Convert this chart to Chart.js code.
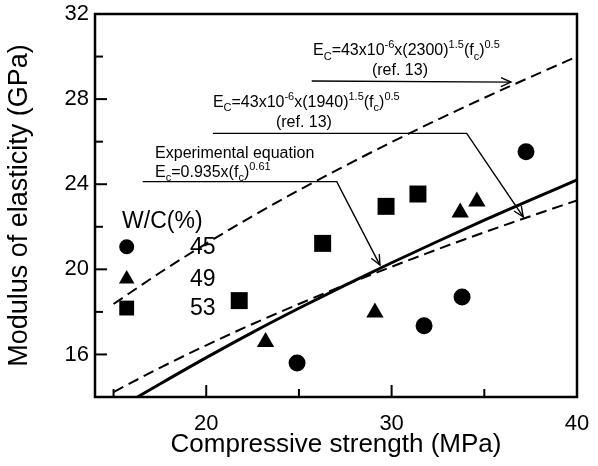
<!DOCTYPE html>
<html><head><meta charset="utf-8">
<script src="https://cdn.jsdelivr.net/npm/chart.js@4/dist/chart.umd.min.js"></script>
<style>html,body{margin:0;padding:0;background:#fff}#c{display:block}</style>
</head><body>
<canvas id="c" width="598" height="466"></canvas>
<script>
// ---- data ----
const fc45 = [24.9, 31.75, 33.8, 37.25];
const ec45 = [15.6, 17.35, 18.7, 25.53];
const fc49 = [23.2, 29.1, 33.7, 34.6];
const ec49 = [16.58, 17.97, 22.67, 23.19];
const fc53 = [21.78, 26.28, 29.7, 31.42];
const ec53 = [18.53, 21.22, 22.96, 23.54];

const fcCurve = [15, 17.5, 20, 22.5, 25, 27.5, 30, 32.5, 35, 37.5, 40];
const ecRef2300 = [18.37, 19.84, 21.21, 22.50, 23.72, 24.87, 25.98, 27.04, 28.06, 29.04, 30.00];
const ecRef1940 = [14.23, 15.37, 16.43, 17.43, 18.37, 19.27, 20.12, 20.95, 21.74, 22.50, 23.24];
const fcExp = [16.0, 17.5, 20, 22.5, 25, 27.5, 30, 32.5, 35, 37.5, 40];
const ecExp = [13.85, 14.61, 15.85, 17.04, 18.17, 19.26, 20.31, 21.32, 22.31, 23.26, 24.20];

const xMajor = [20, 30, 40];
const xMinor = [15, 25, 35];
const yMajor = [16, 20, 24, 28, 32];
const yMinor = [18, 22, 26, 30];

const legendLabels = ['45', '49', '53'];
const legendTitle = 'W/C(%)';

const FONT = '"Liberation Sans", Arial, Helvetica, sans-serif';

function pts(xs, ys) { return xs.map((x, i) => ({x: x, y: ys[i]})); }

// annotation anchors (data units)
const ann = {
  t1: {x: 25.76, y: 30.07}, r1: {x: 30.45, y: 29.13},
  t2: {x: 20.36, y: 27.64}, r2: {x: 25.27, y: 26.69},
  t3: {x: 17.24, y: 25.23}, t4: {x: 17.24, y: 24.35},
  a1: [[16.57, 24.12], [27.04, 24.12], [29.37, 20.20]],
  a2: [[20.36, 26.39], [34.05, 26.39], [37.10, 22.47]],
  a3: [[25.69, 28.85], [36.44, 28.80]],
  leg: {mx: 15.71, tx: 19.12, title: {x: 15.46, y: 21.95}, ys: [21.06, 19.55, 18.18]}
};

function drawMarker(ctx, style, x, y, r) {
  ctx.beginPath();
  if (style === 'circle') {
    ctx.arc(x, y, r, 0, Math.PI * 2);
  } else if (style === 'triangle') {
    ctx.moveTo(x, y - r);
    ctx.lineTo(x + r * Math.sin(2 * Math.PI / 3), y - r * Math.cos(2 * Math.PI / 3));
    ctx.lineTo(x + r * Math.sin(4 * Math.PI / 3), y - r * Math.cos(4 * Math.PI / 3));
    ctx.closePath();
  } else {
    const s = r * Math.SQRT1_2;
    ctx.rect(x - s, y - s, 2 * s, 2 * s);
  }
  ctx.fill();
}

function drawRich(ctx, parts, x, y, size, align) {
  const fontN = size + 'px ' + FONT, fontS = Math.round(size * 0.68) + 'px ' + FONT;
  let w = 0;
  parts.forEach(p => { ctx.font = p[1] ? fontS : fontN; w += ctx.measureText(p[0]).width; });
  let cx = align === 'center' ? x - w / 2 : x;
  ctx.textAlign = 'left';
  ctx.textBaseline = 'alphabetic';
  parts.forEach(p => {
    ctx.font = p[1] ? fontS : fontN;
    const dy = p[1] === 'sub' ? size * 0.28 : (p[1] === 'sup' ? -size * 0.42 : 0);
    ctx.fillText(p[0], cx, y + dy);
    cx += ctx.measureText(p[0]).width;
  });
}

function arrow(ctx, pts, X, Y) {
  ctx.beginPath();
  pts.forEach((p, i) => { const px = X(p[0]), py = Y(p[1]); i ? ctx.lineTo(px, py) : ctx.moveTo(px, py); });
  ctx.stroke();
  const n = pts.length;
  const x1 = X(pts[n - 2][0]), y1 = Y(pts[n - 2][1]), x2 = X(pts[n - 1][0]), y2 = Y(pts[n - 1][1]);
  const ang = Math.atan2(y2 - y1, x2 - x1), L = 11, h = 0.42;
  ctx.beginPath();
  ctx.moveTo(x2 - L * Math.cos(ang - h), y2 - L * Math.sin(ang - h));
  ctx.lineTo(x2, y2);
  ctx.lineTo(x2 - L * Math.cos(ang + h), y2 - L * Math.sin(ang + h));
  ctx.stroke();
}

const decor = {
  id: 'decor',
  afterDraw(chart) {
    const ctx = chart.ctx, xs = chart.scales.x, ys = chart.scales.y, a = chart.chartArea;
    const X = v => xs.getPixelForValue(v), Y = v => ys.getPixelForValue(v);
    ctx.save();
    ctx.strokeStyle = '#000'; ctx.fillStyle = '#000';
    // inner ticks
    ctx.lineWidth = 2;
    const tk = (vals, len, axis) => vals.forEach(v => {
      ctx.beginPath();
      if (axis === 'x') { ctx.moveTo(X(v), a.bottom); ctx.lineTo(X(v), a.bottom - len); }
      else { ctx.moveTo(a.left, Y(v)); ctx.lineTo(a.left + len, Y(v)); }
      ctx.stroke();
    });
    tk(xMajor.filter(v => v < 40), 12, 'x'); tk(xMinor, 8, 'x');
    tk(yMajor.filter(v => v < 32), 12, 'y'); tk(yMinor, 8, 'y');
    // frame
    ctx.lineWidth = 2.5;
    ctx.strokeRect(a.left, a.top, a.right - a.left, a.bottom - a.top);
    // annotation arrows
    ctx.lineWidth = 1.4;
    arrow(ctx, ann.a1, X, Y); arrow(ctx, ann.a2, X, Y); arrow(ctx, ann.a3, X, Y);
    // annotation texts
    const S = 16;
    drawRich(ctx, [['E'], ['C', 'sub'], ['=43x10'], ['-6', 'sup'], ['x(2300)'], ['1.5', 'sup'], ['(f'], ['c', 'sub'], [')'], ['0.5', 'sup']], X(ann.t1.x), Y(ann.t1.y), S, 'left');
    drawRich(ctx, [['(ref. 13)']], X(ann.r1.x), Y(ann.r1.y), S, 'center');
    drawRich(ctx, [['E'], ['C', 'sub'], ['=43x10'], ['-6', 'sup'], ['x(1940)'], ['1.5', 'sup'], ['(f'], ['c', 'sub'], [')'], ['0.5', 'sup']], X(ann.t2.x), Y(ann.t2.y), S, 'left');
    drawRich(ctx, [['(ref. 13)']], X(ann.r2.x), Y(ann.r2.y), S, 'center');
    drawRich(ctx, [['Experimental equation']], X(ann.t3.x), Y(ann.t3.y), S, 'left');
    drawRich(ctx, [['E'], ['c', 'sub'], ['=0.935x(f'], ['c', 'sub'], [')'], ['0.61', 'sup']], X(ann.t4.x), Y(ann.t4.y), S, 'left');
    // legend
    ctx.font = '23px ' + FONT;
    ctx.textAlign = 'left'; ctx.textBaseline = 'alphabetic';
    ctx.fillText(legendTitle, X(ann.leg.title.x), Y(ann.leg.title.y));
    const styles = ['circle', 'triangle', 'rect'], rs = [7.5, 9, 10.5];
    ctx.textBaseline = 'middle';
    styles.forEach((s, i) => {
      drawMarker(ctx, s, X(ann.leg.mx), Y(ann.leg.ys[i]), rs[i]);
      ctx.fillText(legendLabels[i], X(ann.leg.tx), Y(ann.leg.ys[i]) + 1);
    });
    ctx.restore();
  }
};

const lineDs = (label, xs, ys, dash, w) => ({
  label, data: pts(xs, ys), showLine: true, pointRadius: 0, borderColor: '#000',
  borderWidth: w, borderDash: dash, cubicInterpolationMode: 'monotone', fill: false
});

new Chart(document.getElementById('c'), {
  type: 'scatter',
  data: {
    datasets: [
      {label: '45', data: pts(fc45, ec45), pointStyle: 'circle', pointRadius: 8.5, backgroundColor: '#000', borderWidth: 0},
      {label: '49', data: pts(fc49, ec49), pointStyle: 'triangle', pointRadius: 10, backgroundColor: '#000', borderWidth: 0},
      {label: '53', data: pts(fc53, ec53), pointStyle: 'rect', pointRadius: 12, backgroundColor: '#000', borderWidth: 0},
      lineDs('Experimental', fcExp, ecExp, [], 3),
      lineDs('ref 1940', fcCurve, ecRef1940, [11, 6], 2),
      lineDs('ref 2300', fcCurve, ecRef2300, [11, 6], 2)
    ]
  },
  options: {
    responsive: false, animation: false, devicePixelRatio: 1,
    layout: {padding: {top: 14, right: 21, left: 0, bottom: 0}},
    plugins: {legend: {display: false}, tooltip: {enabled: false}},
    scales: {
      x: {
        type: 'linear', min: 14, max: 40,
        afterBuildTicks: s => { s.ticks = xMajor.map(v => ({value: v})); },
        afterFit: s => { s.height = 69; s.paddingLeft = 0; s.paddingRight = 0; },
        grid: {display: false, drawTicks: false},
        border: {display: false},
        ticks: {color: '#000', padding: 14, font: {family: FONT, size: 22}},
        title: {display: true, text: 'Compressive strength (MPa)', color: '#000',
                font: {family: FONT, size: 26, lineHeight: 1.2}, padding: {top: 0, bottom: 6}}
      },
      y: {
        type: 'linear', min: 14, max: 32,
        afterBuildTicks: s => { s.ticks = yMajor.map(v => ({value: v})); },
        afterFit: s => { s.width = 95; s.paddingTop = 0; s.paddingBottom = 0; },
        grid: {display: false, drawTicks: false},
        border: {display: false},
        ticks: {color: '#000', padding: 6, font: {family: FONT, size: 22}},
        title: {display: true, text: 'Modulus of elasticity (GPa)', color: '#000',
                font: {family: FONT, size: 27, lineHeight: 1.2}, padding: {top: 3, bottom: 0}}
      }
    }
  },
  plugins: [decor]
});
</script>
</body></html>
